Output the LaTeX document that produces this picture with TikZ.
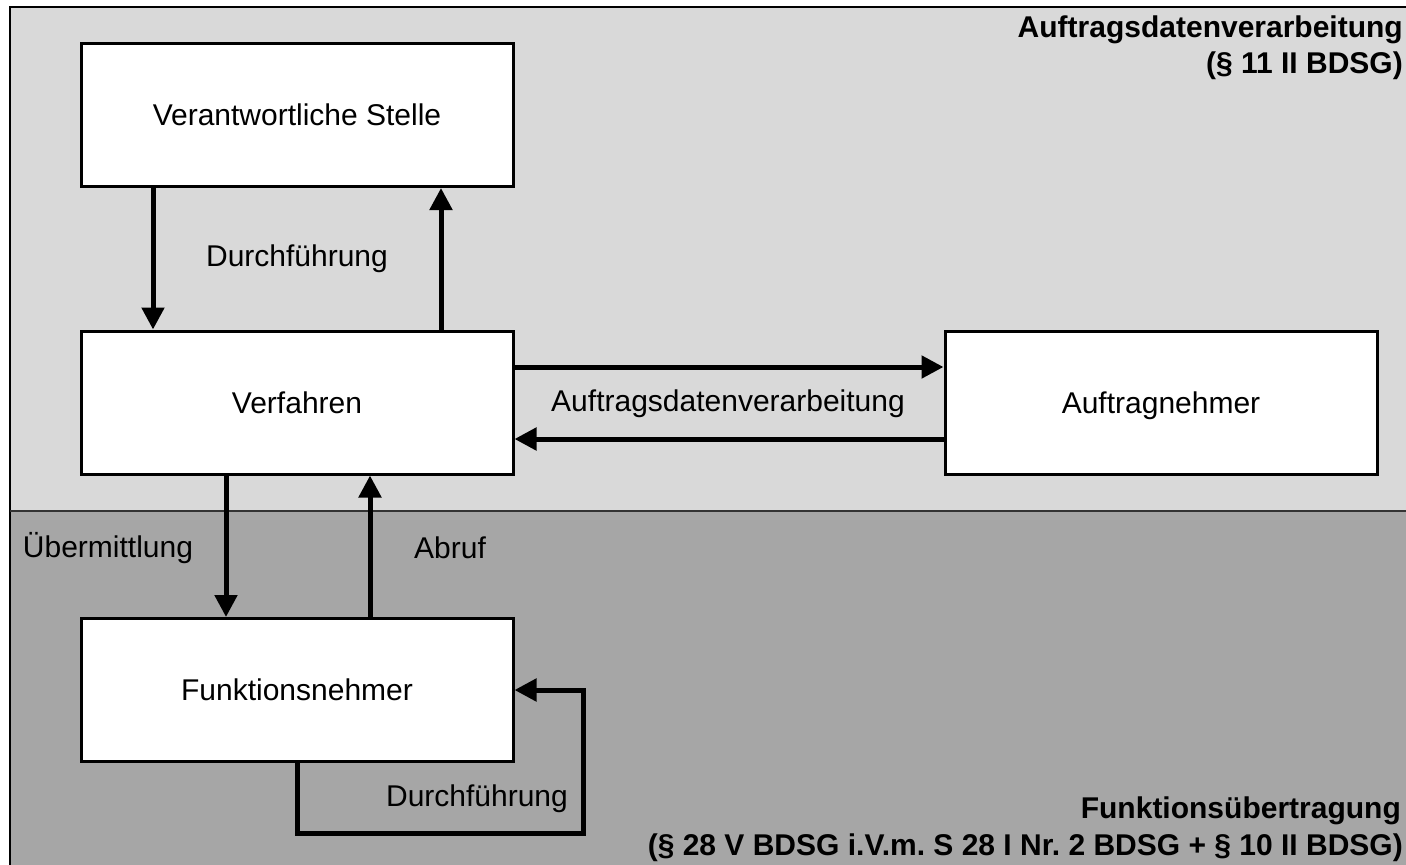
\documentclass[tikz,border=0pt]{standalone}
\usepackage{fontspec}
\setmainfont{Liberation Sans}
\usetikzlibrary{arrows.meta}
\definecolor{toplight}{HTML}{D9D9D9}
\definecolor{botdark}{HTML}{A6A6A6}
\frenchspacing
\tikzset{
  box/.style={draw=black, line width=3pt, fill=white, rectangle, minimum width=432pt, minimum height=143pt, inner sep=0pt, text height=21.5pt, text depth=0pt, font=\fontsize{30}{36}\selectfont},
  lbl/.style={inner sep=0pt, font=\fontsize{30}{36}\selectfont},
  head/.style={inner sep=0pt, font=\fontsize{30}{36}\selectfont\bfseries},
  arr/.style={line width=5pt, -{Triangle[length=22pt,width=22pt]}},
}
\begin{document}
\begin{tikzpicture}[x=1pt,y=-1pt]
\useasboundingbox (0,0) rectangle (1406,865);
\fill[white] (0,0) rectangle (1406,865);
\fill[toplight] (10,7) rectangle (1406,511);
\fill[botdark] (10,511) rectangle (1406,865);
\draw[line width=2pt] (10,865) -- (10,7) -- (1406,7);
\draw[line width=1.5pt, black!80] (10,511) -- (1406,511);

\node[head, anchor=base east] (hA1) at (1403,37) {Auftragsdatenverarbeitung};
\node[head, anchor=base east] (hA2) at (1403,73) {(§ 11 II BDSG)};
\node[head, anchor=base east] (hF1) at (1401,818) {Funktionsübertragung};
\node[head, anchor=base east] (hF2) at (1403,855) {(§ 28 V BDSG i.V.m. S 28 I Nr. 2 BDSG + § 10 II BDSG)};

\node[box] (VS) at (297,115) {Verantwortliche Stelle};
\node[box] (V) at (297,402.5) {Verfahren};
\node[box] (AN) at (1161,402.5) {Auftragnehmer};
\node[box] (FN) at (297,690) {Funktionsnehmer};

\draw[arr] ([xshift=-144pt]VS.south) -- ([xshift=-144pt]V.north);
\draw[arr] ([xshift=144pt]V.north) -- ([xshift=144pt]VS.south);
\node[lbl] (l1) at (297,259) {Durchführung};

\draw[arr] ([yshift=35.5pt]V.east) -- ([yshift=35.5pt]AN.west);
\draw[arr] ([yshift=-36.5pt]AN.west) -- ([yshift=-36.5pt]V.east);
\node[lbl] (l2) at (728,404) {Auftragsdatenverarbeitung};

\draw[arr] ([xshift=-71pt]V.south) -- ([xshift=-71pt]FN.north);
\draw[arr] ([xshift=73pt]FN.north) -- ([xshift=73pt]V.south);
\node[lbl] (l3) at (108,548) {Übermittlung};
\node[lbl] (l4) at (450,548) {Abruf};

\coordinate (c1) at (583,833);
\draw[arr] (FN.south) |- (c1) |- (FN.east);
\node[lbl] (l5) at (477,799) {Durchführung};
\end{tikzpicture}
\end{document}
